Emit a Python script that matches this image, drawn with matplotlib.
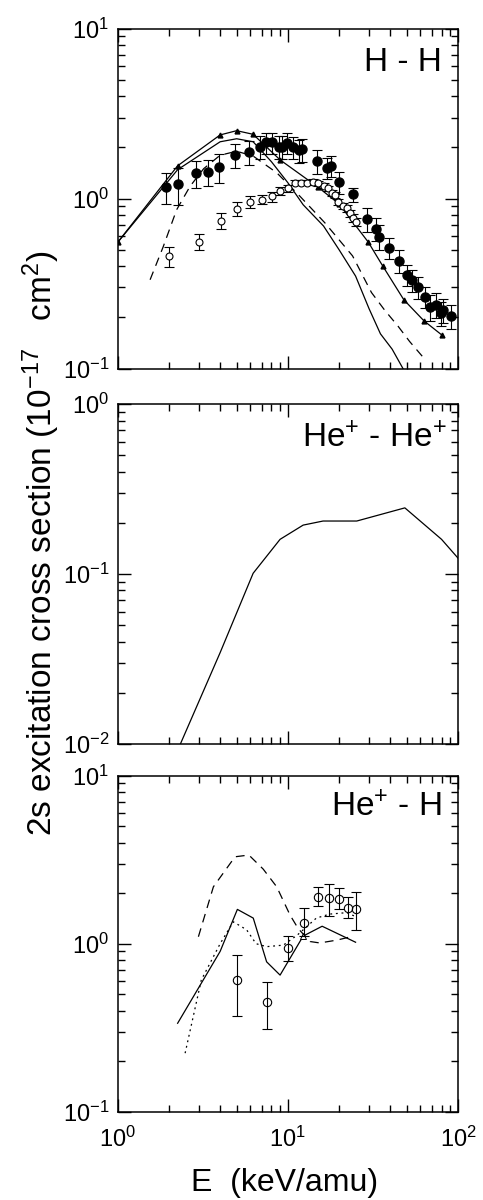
import matplotlib
matplotlib.use("Agg")
import matplotlib.pyplot as plt
from matplotlib.ticker import LogLocator, NullFormatter

plt.rcParams["font.family"] = ["Liberation Sans", "DejaVu Sans"]
plt.rcParams["mathtext.fontset"] = "custom"
plt.rcParams["mathtext.rm"] = "Liberation Sans"
plt.rcParams["mathtext.it"] = "Liberation Sans:italic"
plt.rcParams["mathtext.bf"] = "Liberation Sans:bold"

# ---- H - H ----
hh_tri_e = [1.0, 2.25, 4.0, 5.0, 6.25, 9.0, 15.0, 20.0, 29.7, 36.0, 48.0, 63.0, 80.0]
hh_tri_s = [0.553, 1.56, 2.37, 2.51, 2.39, 1.69, 1.17, 0.93, 0.554, 0.403, 0.254, 0.191, 0.158]

hh_sol_e = [1.0, 2.25, 4.0, 5.0, 6.25, 8.0, 10.0, 12.3, 16.2, 20.0, 25.0, 30.0, 35.0, 41.0, 48.0]
hh_sol_s = [0.553, 1.48, 2.16, 2.25, 2.16, 1.65, 1.24, 0.92, 0.69, 0.50, 0.35, 0.225, 0.16, 0.13, 0.098]

hh_dash_e = [1.55, 1.85, 2.22, 2.66, 3.2, 4.0, 5.0, 6.25, 8.6, 11.8, 16.5, 24.0, 31.0, 37.0, 44.5, 52.0, 64.0]
hh_dash_s = [0.333, 0.52, 0.86, 1.18, 1.5, 1.8, 1.9, 1.78, 1.42, 1.03, 0.72, 0.46, 0.28, 0.221, 0.177, 0.144, 0.113]

hh_full_e = [1.91, 2.25, 2.89, 3.38, 3.96, 4.91, 5.94, 6.89, 7.41, 8.09, 8.9, 9.27, 9.88,
             10.76, 11.67, 12.15, 14.76, 17.04, 17.85, 19.89, 24.2, 29.3, 32.9, 34.3, 39.4,
             44.8, 49.9, 53.8, 58.4, 63.6, 68.4, 73.9, 79.0, 81.9, 90.5]
hh_full_s = [1.17, 1.22, 1.41, 1.44, 1.53, 1.81, 1.87, 2.02, 2.14, 2.14, 2.02, 2.02, 2.12,
             2.0, 1.92, 1.95, 1.67, 1.52, 1.56, 1.25, 1.06, 0.76, 0.664, 0.598, 0.515,
             0.43, 0.356, 0.332, 0.30, 0.265, 0.23, 0.237, 0.212, 0.221, 0.204]
hh_full_err = [0.24, 0.30, 0.25, 0.25, 0.30, 0.29, 0.30, 0.30, 0.30, 0.30, 0.30, 0.30, 0.30,
               0.30, 0.30, 0.30, 0.27, 0.22, 0.22, 0.19, 0.10, 0.12, 0.10, 0.10, 0.075,
               0.065, 0.05, 0.05, 0.045, 0.038, 0.04, 0.04, 0.035, 0.035, 0.034]

hh_open_e = [2.01, 3.0, 4.03, 5.0, 6.01, 7.02, 8.03, 9.02, 9.97, 11.0, 11.9, 12.9, 14.0,
             15.1, 16.2, 17.3, 18.1, 18.9, 19.8, 21.2, 22.3, 23.2, 24.2, 25.1]
hh_open_s = [0.46, 0.558, 0.74, 0.873, 0.96, 0.987, 1.03, 1.11, 1.15, 1.24, 1.24, 1.24, 1.26,
             1.23, 1.19, 1.15, 1.08, 1.05, 0.96, 0.906, 0.878, 0.82, 0.767, 0.73]
hh_open_err = [0.062, 0.06, 0.08, 0.08, 0.08, 0.06, 0.07, 0.06, 0.06, 0.04, 0.04, 0.04, 0.04,
               0.04, 0.04, 0.04, 0.04, 0.04, 0.04, 0.04, 0.04, 0.04, 0.04, 0.04]

# ---- He+ - He+ ----
hehe_e = [2.0, 4.0, 6.25, 9.0, 12.3, 16.1, 25.4, 48.7, 80.0, 100.0]
hehe_s = [0.0070, 0.0345, 0.101, 0.16, 0.194, 0.205, 0.205, 0.245, 0.16, 0.124]

# ---- He+ - H ----
heh_sol_e = [2.25, 4.0, 5.05, 6.26, 7.5, 9.0, 12.3, 15.9, 25.0]
heh_sol_s = [0.336, 0.90, 1.60, 1.42, 0.78, 0.65, 1.11, 1.27, 1.02]
heh_tri_e = [12.3]
heh_tri_s = [1.11]

heh_dash_e = [2.98, 3.65, 4.89, 5.9, 7.16, 8.6, 10.3, 11.5, 13.5, 15.4, 19.4, 23.5]
heh_dash_s = [1.10, 2.18, 3.29, 3.37, 2.78, 2.18, 1.48, 1.23, 1.03, 1.01, 1.05, 1.10]

heh_dot_e = [2.49, 3.1, 4.0, 4.78, 5.72, 6.5, 7.5, 9.4, 11.3, 14.7, 17.6, 22.2, 25.0]
heh_dot_s = [0.223, 0.608, 1.0, 1.35, 1.21, 1.0, 0.96, 0.98, 1.12, 1.42, 1.50, 1.53, 1.45]

heh_exp_e = [5.0, 7.5, 10.0, 12.5, 15.0, 17.4, 19.96, 22.5, 25.1]
heh_exp_s = [0.608, 0.448, 0.946, 1.33, 1.90, 1.86, 1.85, 1.64, 1.61]
heh_exp_lo = [0.237, 0.139, 0.157, 0.22, 0.22, 0.40, 0.25, 0.22, 0.40]
heh_exp_hi = [0.245, 0.141, 0.164, 0.30, 0.27, 0.40, 0.29, 0.25, 0.42]

LW = 0.9
DASH = (0, (7, 5))
DOT = (0, (1.5, 3))


def style_axis(ax, ylim, show_x):
    ax.set_xscale("log")
    ax.set_yscale("log")
    ax.set_xlim(1, 100)
    ax.set_ylim(*ylim)
    for a in (ax.xaxis, ax.yaxis):
        a.set_major_locator(LogLocator(base=10, numticks=10))
        a.set_minor_locator(LogLocator(base=10, subs=range(2, 10), numticks=10))
        a.set_minor_formatter(NullFormatter())
    ax.tick_params(which="both", direction="in", top=True, right=True, width=1.0,
                   labelsize=17)
    ax.tick_params(which="major", length=9.5)
    ax.tick_params(which="minor", length=5)
    ax.tick_params(axis="y", pad=6)
    ax.tick_params(axis="x", pad=11)
    if not show_x:
        ax.tick_params(axis="x", labelbottom=False)
    for sp in ax.spines.values():
        sp.set_linewidth(1.1)


fig = plt.figure(figsize=(4.83, 12), dpi=100)
left, width = 0.2437, 0.7046
ax1 = fig.add_axes([left, 0.6929, width, 0.2832])
ax2 = fig.add_axes([left, 0.3800, width, 0.2833])
ax3 = fig.add_axes([left, 0.0736, width, 0.2800])

# H - H
style_axis(ax1, (0.1, 10), False)
ax1.plot(hh_tri_e, hh_tri_s, "k-", lw=LW, marker="^", ms=3.5)
ax1.plot(hh_sol_e, hh_sol_s, "k-", lw=LW)
ax1.plot(hh_dash_e, hh_dash_s, color="k", ls=DASH, lw=LW)
ax1.errorbar(hh_open_e, hh_open_s, yerr=hh_open_err, fmt="o", color="k", mfc="white",
             ms=5, mew=0.8, elinewidth=0.8, capsize=3.3, capthick=0.8)
ax1.errorbar(hh_full_e, hh_full_s, yerr=hh_full_err, fmt="o", color="k",
             ms=6.5, elinewidth=0.8, capsize=3.3, capthick=0.8)
ax1.text(0.953, 0.876, "H - H", transform=ax1.transAxes, ha="right", va="baseline",
         fontsize=24)

# He+ - He+
style_axis(ax2, (0.01, 1), False)
ax2.plot(hehe_e, hehe_s, "k-", lw=LW)
ax2.text(0.967, 0.874, "He$^{+}$ - He$^{+}$", transform=ax2.transAxes, ha="right",
         va="baseline", fontsize=24)

# He+ - H
style_axis(ax3, (0.1, 10), True)
ax3.plot(heh_sol_e, heh_sol_s, "k-", lw=LW)
ax3.plot(heh_tri_e, heh_tri_s, "k^", ms=4, mfc="white", mew=0.7)
ax3.plot(heh_dash_e, heh_dash_s, color="k", ls=DASH, lw=LW)
ax3.plot(heh_dot_e, heh_dot_s, color="k", ls=DOT, lw=LW)
ax3.errorbar(heh_exp_e, heh_exp_s, yerr=[heh_exp_lo, heh_exp_hi], fmt="o", color="k",
             mfc="none", ms=6, mew=0.8, elinewidth=0.8, capsize=3.3, capthick=0.8)
ax3.text(0.953, 0.878, "He$^{+}$ - H", transform=ax3.transAxes, ha="right",
         va="baseline", fontsize=24)

fig.text(0.085, 0.5475, "2s excitation cross section (10$^{-17}$   cm$^{2}$)",
         rotation=90, ha="center", va="center", fontsize=24)
fig.text(0.59, 0.0142, "E  (keV/amu)", ha="center", va="center", fontsize=23)

fig.savefig("out.png", dpi=100)
